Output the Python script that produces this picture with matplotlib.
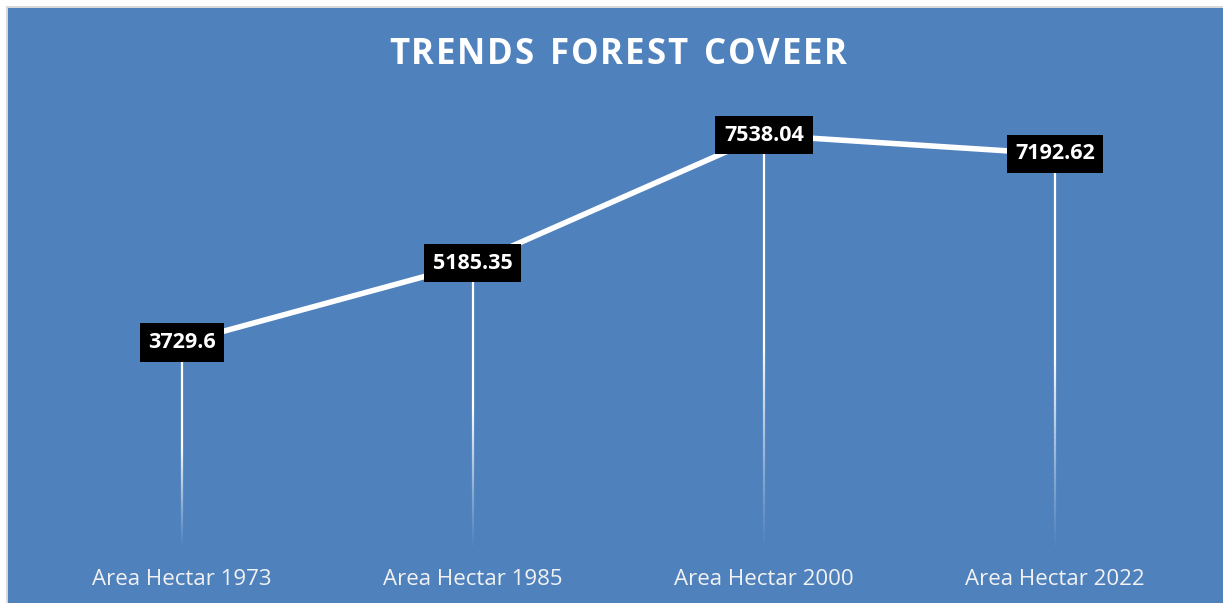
import numpy as np
import matplotlib
matplotlib.use("Agg")
import matplotlib.pyplot as plt
from matplotlib.collections import LineCollection
from matplotlib.patches import Rectangle

# forest cover area per survey year (hectares)
categories = ["Area Hectar 1973", "Area Hectar 1985", "Area Hectar 2000", "Area Hectar 2022"]
area_ha = [3729.6, 5185.35, 7538.04, 7192.62]

BLUE = "#4F81BD"
plt.rcParams["font.family"] = ["Open Sans", "DejaVu Sans"]

fig = plt.figure(figsize=(12.23, 6.03), dpi=100, facecolor="white")

# chart area background with thin grey frame on left/top
fig.patches.append(Rectangle((6 / 1223, 0), 1 - 6 / 1223, 1 - 6 / 603,
                             transform=fig.transFigure, facecolor="#D9D9D9",
                             edgecolor="none", zorder=-2))
fig.patches.append(Rectangle((8 / 1223, 0), 1 - 8 / 1223, 1 - 8 / 603,
                             transform=fig.transFigure, facecolor=BLUE,
                             edgecolor="none", zorder=-1))

ax = fig.add_axes([0.0298, 0.095, 0.9518, 0.7226])
ax.set_zorder(1)
ax.set_facecolor("none")
x = np.arange(len(categories))
ax.set_xlim(-0.5, len(categories) - 0.5)
ax.set_ylim(0, 8000)

# drop lines fading towards the axis
for xi, v in zip(x, area_ha):
    ys = np.linspace(0, v, 60)
    segs = [[(xi, ys[i]), (xi, ys[i + 1])] for i in range(len(ys) - 1)]
    alphas = np.clip(np.linspace(0.05, 2.0, len(segs)), 0, 1) ** 1.2
    cols = [(1, 1, 1, a) for a in alphas]
    ax.add_collection(LineCollection(segs, colors=cols, linewidths=1.6, zorder=1))

ax.plot(x, area_ha, color="white", linewidth=4, solid_capstyle="round", zorder=2)

for xi, v in zip(x, area_ha):
    ax.text(xi, v, f"{v:g}", ha="center", va="center", color="white",
            fontsize=15.5, fontweight="bold", zorder=3,
            bbox=dict(boxstyle="square,pad=0.4", facecolor="black", edgecolor="none"))

ax.set_xticks(x)
ax.set_xticklabels(categories, color="#F2F2F2", fontsize=16)
ax.tick_params(axis="x", length=0, pad=17)
ax.set_yticks([])
for s in ax.spines.values():
    s.set_visible(False)

# title with a little letter tracking
title = "TRENDS FOREST COVEER"
tfig = fig.text(0, 0, title, fontsize=25, fontweight="bold")
fig.canvas.draw()
r = fig.canvas.get_renderer()
widths = []
for ch in title:
    tfig.set_text(ch if ch != " " else "n")
    w = tfig.get_window_extent(r).width
    widths.append(w * (0.55 if ch == " " else 1.0))
tfig.remove()
track = 1.8
total = sum(widths) + track * (len(title) - 1)
xpos = 618 - total / 2
for ch, w in zip(title, widths):
    if ch != " ":
        fig.text(xpos / 1223, 1 - 55 / 603, ch, ha="left", va="center",
                 color="white", fontsize=25, fontweight="bold")
    xpos += w + track

fig.savefig("out.png", dpi=100, facecolor="white")
